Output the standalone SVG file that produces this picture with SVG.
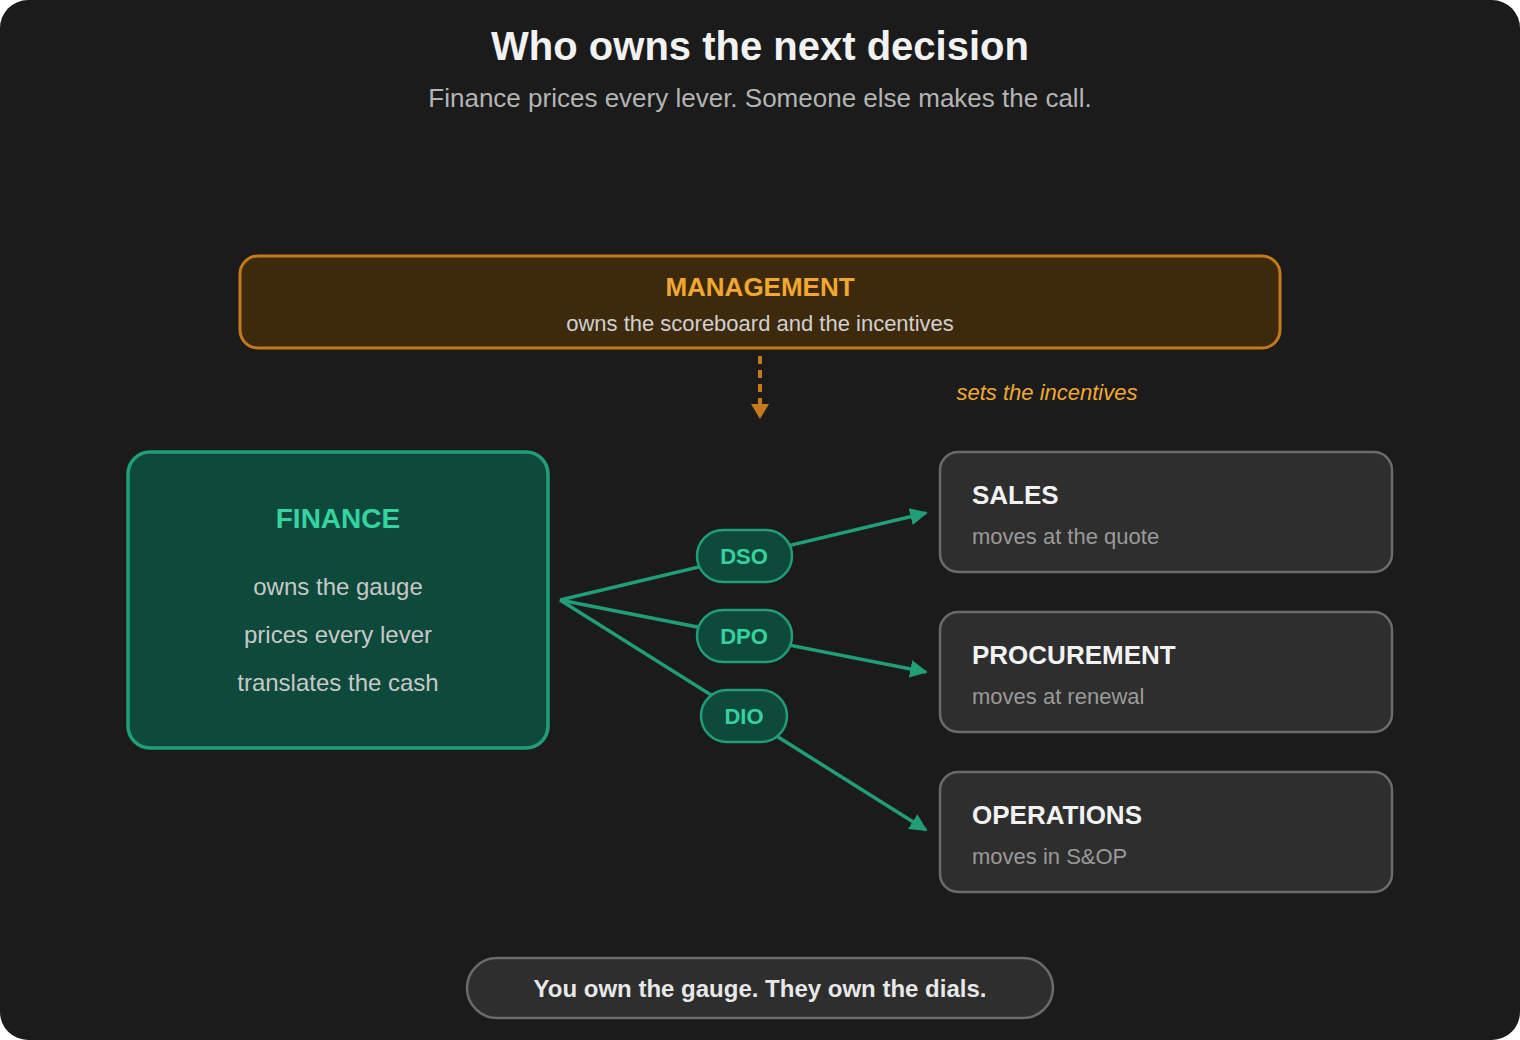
<svg xmlns="http://www.w3.org/2000/svg" width="1520" height="1040" viewBox="0 0 1520 1040">
<defs>
<style>
text{font-family:"Liberation Sans",Arial,sans-serif}
.b{font-weight:bold}
.role{fill:#2e2e2e;stroke:#6b6b6b;stroke-width:2.5}
.rt{fill:#f2f2f2;font-size:26px;font-weight:bold}
.rs{fill:#9a9a9a;font-size:22px}
.pill{fill:#0e4a3b;stroke:#1f9e78;stroke-width:2.5}
.pt{fill:#34d3a0;font-size:22px;font-weight:bold;text-anchor:middle}
.g{stroke:#1f9e78;stroke-width:3.5;fill:none}
</style>
<marker id="ag" viewBox="0 0 10 10" refX="9" refY="5" markerWidth="5" markerHeight="5" orient="auto" markerUnits="strokeWidth"><path d="M0 0L10 5L0 10z" fill="#1f9e78"/></marker>
</defs>
<rect width="1520" height="1040" rx="28" fill="#1b1b1b"/>
<text x="760" y="60" text-anchor="middle" class="b" font-size="40" fill="#f2f2f2">Who owns the next decision</text>
<text x="760" y="107" text-anchor="middle" font-size="26" fill="#b4b4b4">Finance prices every lever. Someone else makes the call.</text>
<g id="management">
<rect x="240" y="256" width="1040" height="92" rx="18" fill="#3d2a0c" stroke="#c47a1a" stroke-width="3"/>
<text x="760" y="296" text-anchor="middle" class="b" font-size="26" fill="#f0a830">MANAGEMENT</text>
<text x="760" y="331" text-anchor="middle" font-size="22" fill="#d0d0d0">owns the scoreboard and the incentives</text>
</g>
<g id="connectors">
<line x1="760" y1="356" x2="760" y2="404" stroke="#c47a1a" stroke-width="4" stroke-dasharray="8 6"/>
<path d="M751 404L769 404L760 419z" fill="#c47a1a"/>
<text x="1047" y="400" text-anchor="middle" font-size="22" font-style="italic" fill="#f0a830">sets the incentives</text>
<line class="g" x1="560" y1="600" x2="926" y2="513" marker-end="url(#ag)"/>
<line class="g" x1="560" y1="600" x2="926" y2="672" marker-end="url(#ag)"/>
<line class="g" x1="560" y1="600" x2="926" y2="830" marker-end="url(#ag)"/>
</g>
<g id="finance">
<rect x="128" y="452" width="420" height="296" rx="22" fill="#0e4a3b" stroke="#1f9e78" stroke-width="3.5"/>
<text x="338" y="528" text-anchor="middle" class="b" font-size="28" fill="#34d3a0">FINANCE</text>
<text x="338" y="595" text-anchor="middle" font-size="24" fill="#c8c8c8">owns the gauge</text>
<text x="338" y="643" text-anchor="middle" font-size="24" fill="#c8c8c8">prices every lever</text>
<text x="338" y="691" text-anchor="middle" font-size="24" fill="#c8c8c8">translates the cash</text>
</g>
<g id="dso"><rect class="pill" x="697" y="530" width="95" height="52" rx="26"/><text class="pt" x="744" y="564">DSO</text></g>
<g id="dpo"><rect class="pill" x="697" y="610" width="95" height="52" rx="26"/><text class="pt" x="744" y="644">DPO</text></g>
<g id="dio"><rect class="pill" x="701" y="690" width="86" height="52" rx="26"/><text class="pt" x="744" y="724">DIO</text></g>
<g id="sales"><rect class="role" x="940" y="452" width="452" height="120" rx="18"/><text class="rt" x="972" y="504">SALES</text><text class="rs" x="972" y="544">moves at the quote</text></g>
<g id="procurement"><rect class="role" x="940" y="612" width="452" height="120" rx="18"/><text class="rt" x="972" y="664">PROCUREMENT</text><text class="rs" x="972" y="704">moves at renewal</text></g>
<g id="operations"><rect class="role" x="940" y="772" width="452" height="120" rx="18"/><text class="rt" x="972" y="824">OPERATIONS</text><text class="rs" x="972" y="864">moves in S&amp;OP</text></g>
<g id="footer"><rect x="467" y="958" width="586" height="60" rx="30" fill="#2e2e2e" stroke="#6b6b6b" stroke-width="2.5"/>
<text x="760" y="997" text-anchor="middle" class="b" font-size="24" fill="#e8e8e8">You own the gauge. They own the dials.</text></g>
</svg>
